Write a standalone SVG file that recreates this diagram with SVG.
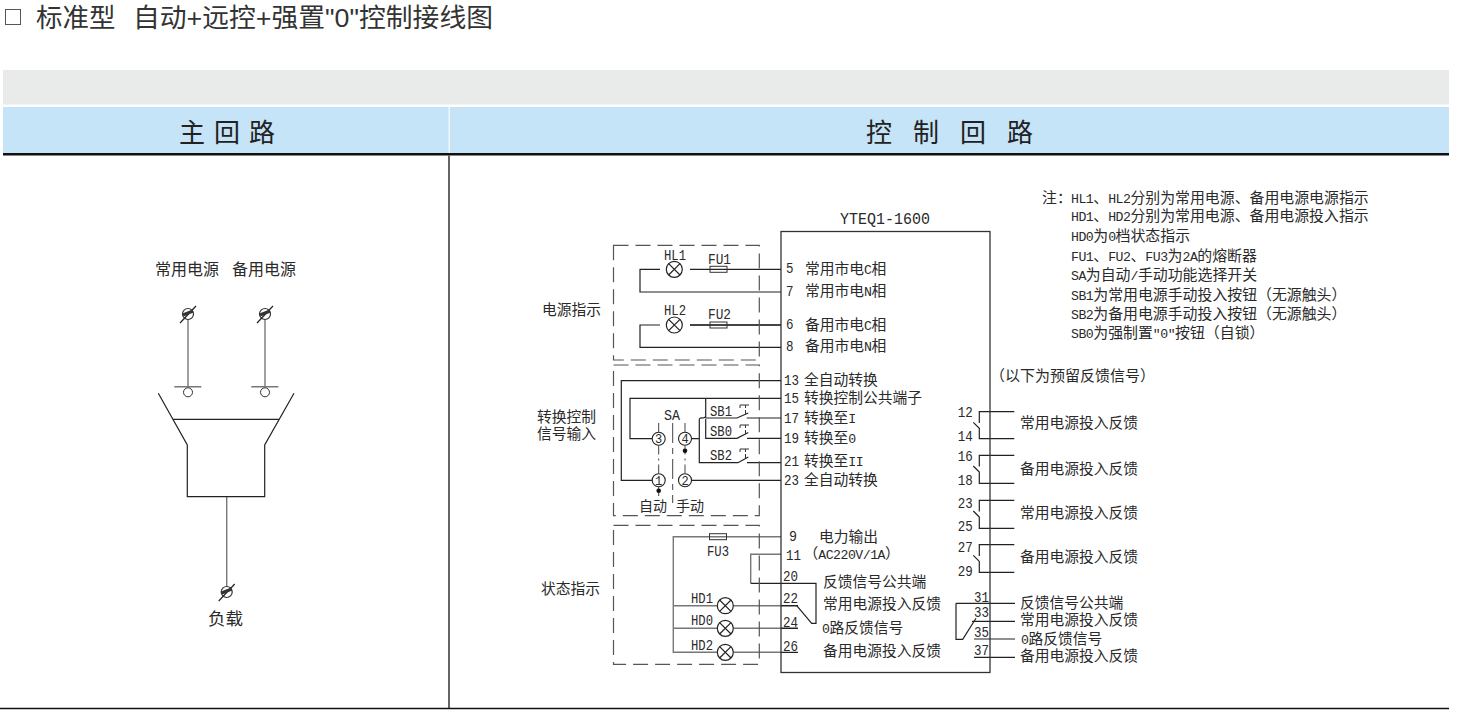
<svg xmlns="http://www.w3.org/2000/svg" width="1460" height="715" viewBox="0 0 1460 715">
<style>
text{font-family:"Liberation Serif","Noto Sans CJK SC",sans-serif;font-size:14.75px;fill:#2a2a2a}
.m{font-family:"Liberation Mono","Noto Sans CJK SC",monospace;font-size:15px}
tspan.l{font-family:"Liberation Mono",monospace;font-size:13.2px;letter-spacing:-.5px}
.t{font-family:"Liberation Sans","Noto Sans CJK SC",sans-serif;font-size:26.5px;fill:#333}
.h{font-family:"Liberation Sans","Noto Sans CJK SC",sans-serif;font-size:26px;fill:#222}
.n{font-size:14.9px}
.w{fill:none;stroke:#222;stroke-width:1.2}
.g{fill:none;stroke:#777;stroke-width:1.4}
.d{fill:none;stroke:#555;stroke-width:1.2;stroke-dasharray:15 7}
.c{fill:none;stroke:#444;stroke-width:1;stroke-dasharray:9 4 2 4}
.lamp{fill:#fff;stroke:#222;stroke-width:1.2}
</style>
<defs>
<g id="lamp"><circle r="8" class="lamp"/><path d="M-5.7-5.7 5.7 5.7M-5.7 5.7 5.7-5.7" class="w"/></g>
<g id="term"><circle r="5.5" fill="#fff" stroke="#333" stroke-width="1.2"/><path d="M-8 9 8-8" stroke="#222" stroke-width="1.2"/><path d="M-5 1 5-3" stroke="#333" stroke-width="3"/></g>
<g id="fuse"><rect x="-8.5" y="-3" width="17" height="6" fill="none" stroke="#333" stroke-width="1"/></g>
<g id="btn"><path d="M0 3V0H9M5.500 0V3M5.500 5V9" fill="none" stroke="#333" stroke-width="1"/></g>
</defs>

<g id="title">
<rect x="5.500" y="9.500" width="15" height="15" fill="none" stroke="#555" stroke-width="1"/>
<text class="t" x="36" y="27">标准型</text>
<text class="t" x="133" y="27" textLength="360" lengthAdjust="spacingAndGlyphs">自动+远控+强置"0"控制接线图</text>
</g>

<g id="header">
<rect x="3" y="70" width="1446" height="34.500" fill="#e9eaea"/>
<rect x="3" y="107" width="1446" height="46" fill="#c5e4f7"/>
<rect x="448.500" y="107" width="1.500" height="46" fill="#eef7fc"/>
<rect x="3" y="153" width="1446" height="2.500" fill="#111"/>
<path d="M449 155.500V708" stroke="#555" stroke-width="1.800" fill="none"/>
<path d="M0 708.500H1449" stroke="#111" stroke-width="1.500" fill="none"/>
<text class="h" x="179" y="142" letter-spacing="9">主回路</text>
<text class="h" x="866" y="142" letter-spacing="21">控制回路</text>
</g>

<g id="connectors">
<path class="g" d="M188 318V386.700M265 318V386.700M226.700 496.700V586"/>
<path class="g" d="M174.300 386.700H201.300M251.300 386.700H278.300"/>
<path class="w" d="M158.300 393.300 187.300 445V496.700H264.700V445L294 393.300M173.300 419.300H278.700"/>

<path class="w" d="M660 269.300H640V292H781M690 269.300H781"/>
<path class="w" d="M660 325H640V347.300H781"/>
<path d="M690 325H781" stroke="#444" stroke-width="2" fill="none"/>

<path class="w" d="M781 380.700H621.300V480.300H652M691.500 480.300H781"/>
<path class="w" d="M781 398.300H630V438.700H652M705.700 398.300V417M705.700 419V438.300H737L748.300 432.500M747 438.300H781" />
<path class="w" d="M691.500 438.700H699.300M699.300 419V462.700H738L748.300 457M747 462.700H781"/>
<path class="w" d="M699.300 419C700.500 417.500 701.500 418 703 418 704.500 418 705 416 706 418H737L748.300 413M746.700 418H781"/>
<path class="c" d="M658.700 423V432M658.700 445.500V473.500M658.700 487V497M685 423V432M685 445.500V473.500"/>
<path d="M672.700 423V503" fill="none" stroke="#444" stroke-width="1" stroke-dasharray="20 5 6 5"/>
<circle cx="685" cy="450.700" r="2.300" fill="#111"/>
<circle cx="658.700" cy="490.700" r="2.300" fill="#111"/>

<path class="g" d="M781 536.700H673.300V652.300H717M733 605.700H798M673.300 605.700H717M673.300 628.300H717M733 628.300H798M733 652.300H781"/>
<path class="w" d="M781 605.700H798M781 628.300H798M781 652.300H798"/>
<path class="g" d="M781 554.300H750.700V583.300"/>
<path class="w" d="M750.700 583.300H816V623.300H811.700L796.700 605.700"/>

<path class="w" d="M1014.300 411.700H979.300V423M973.300 422.300 979.300 428.300V438.700H1014.300"/>
<path class="w" d="M1014.300 455.300H979.300V466.600M973.300 466 979.300 472V483.300H1014.300"/>
<path class="w" d="M1014.300 500.300H979.300V511.600M973.300 511 979.300 517V528.300H1014.300"/>
<path class="w" d="M1014.300 544.700H979.300V556M973.300 555.400 979.300 561.400V572.300H1014.300"/>
<path class="w" d="M974 603.300H1015M956 603.300H974M956 603.300V639.300H962.700L976 618.300M972 621.300H1015M974 639H1015M974 657.300H1015"/>
</g>

<g id="main-circuit">
<use href="#term" x="188" y="314"/><use href="#term" x="265" y="314"/><use href="#term" x="226.700" y="592"/>
<circle cx="188" cy="392.300" r="4.500" fill="#fff" stroke="#333"/>
<circle cx="265" cy="392.300" r="4.500" fill="#fff" stroke="#333"/>
<text x="155" y="275" style="font-size:16px">常用电源</text>
<text x="232" y="275" style="font-size:16px">备用电源</text>
<text x="208" y="625" style="font-size:17.500px">负载</text>
</g>

<g id="controller">
<rect x="781" y="231.500" width="209" height="441" fill="none" stroke="#333" stroke-width="1.300"/>
<text class="m" x="840" y="224" textLength="90" lengthAdjust="spacingAndGlyphs" style="font-size:17px">YTEQ1-1600</text>
</g>

<g id="power-indicator">
<rect x="613.500" y="245.300" width="145.800" height="114.700" class="d"/>
<use href="#lamp" x="674.300" y="269.300"/><use href="#lamp" x="674.300" y="325"/>
<use href="#fuse" x="718.500" y="269.300"/><use href="#fuse" x="718.500" y="325"/>
<text class="m" x="664" y="260" textLength="22" lengthAdjust="spacingAndGlyphs">HL1</text>
<text class="m" x="708" y="264" textLength="23" lengthAdjust="spacingAndGlyphs">FU1</text>
<text class="m" x="664" y="315" textLength="22" lengthAdjust="spacingAndGlyphs">HL2</text>
<text class="m" x="708" y="319" textLength="23" lengthAdjust="spacingAndGlyphs">FU2</text>
<text x="542" y="315">电源指示</text>
</g>

<g id="transfer-control">
<rect x="613.500" y="365" width="145.800" height="150.700" class="d"/>
<text x="537" y="422">转换控制</text><text x="537" y="439">信号输入</text>
<text class="m" x="664" y="420" textLength="16" lengthAdjust="spacingAndGlyphs">SA</text>
<text class="m" x="710" y="416" textLength="22" lengthAdjust="spacingAndGlyphs">SB1</text>
<text class="m" x="710" y="436" textLength="22" lengthAdjust="spacingAndGlyphs">SB0</text>
<text class="m" x="710" y="460" textLength="22" lengthAdjust="spacingAndGlyphs">SB2</text>
<use href="#btn" x="740" y="405"/><use href="#btn" x="740" y="425"/><use href="#btn" x="740" y="449"/>
<g fill="#fff" stroke="#222" stroke-width="1.100">
<circle cx="658.700" cy="438.700" r="6.500"/><circle cx="685" cy="438.700" r="6.500"/>
<circle cx="658.700" cy="480.300" r="6.500"/><circle cx="685" cy="480.300" r="6.500"/>
</g>
<text class="m" x="658.700" y="443" text-anchor="middle" style="font-size:12px">3</text>
<text class="m" x="685" y="443" text-anchor="middle" style="font-size:12px">4</text>
<text class="m" x="658.700" y="484.500" text-anchor="middle" style="font-size:12px">1</text>
<text class="m" x="685" y="484.500" text-anchor="middle" style="font-size:12px">2</text>
<text x="639" y="511" style="font-size:14px">自动</text><text x="676" y="511" style="font-size:14px">手动</text>
</g>

<g id="status-indicator">
<rect x="613.500" y="525.300" width="145.800" height="139" class="d"/>
<use href="#fuse" x="718" y="536.700"/>
<use href="#lamp" x="725.300" y="605.700"/><use href="#lamp" x="725.300" y="628.300"/><use href="#lamp" x="725.300" y="652.300"/>
<text class="m" x="707" y="556" textLength="22" lengthAdjust="spacingAndGlyphs">FU3</text>
<text class="m" x="691" y="603" textLength="22" lengthAdjust="spacingAndGlyphs">HD1</text>
<text class="m" x="691" y="625" textLength="22" lengthAdjust="spacingAndGlyphs">HD0</text>
<text class="m" x="691" y="650" textLength="22" lengthAdjust="spacingAndGlyphs">HD2</text>
<text x="541" y="594">状态指示</text>
</g>

<g id="terminals-left">
<text class="m" x="786" y="273" textLength="7.500" lengthAdjust="spacingAndGlyphs">5</text><text x="805" y="274">常用市电<tspan class="l">C</tspan>相</text>
<text class="m" x="786" y="296" textLength="7.500" lengthAdjust="spacingAndGlyphs">7</text><text x="805" y="296">常用市电<tspan class="l">N</tspan>相</text>
<text class="m" x="786" y="329" textLength="7.500" lengthAdjust="spacingAndGlyphs">6</text><text x="805" y="330">备用市电<tspan class="l">C</tspan>相</text>
<text class="m" x="786" y="351" textLength="7.500" lengthAdjust="spacingAndGlyphs">8</text><text x="805" y="351">备用市电<tspan class="l">N</tspan>相</text>
<text class="m" x="784" y="385" textLength="15" lengthAdjust="spacingAndGlyphs">13</text><text x="804" y="385">全自动转换</text>
<text class="m" x="784" y="402.500" textLength="15" lengthAdjust="spacingAndGlyphs">15</text><text x="804" y="402.500">转换控制公共端子</text>
<text class="m" x="784" y="423" textLength="15" lengthAdjust="spacingAndGlyphs">17</text><text x="804" y="423">转换至<tspan class="l">I</tspan></text>
<text class="m" x="784" y="443" textLength="15" lengthAdjust="spacingAndGlyphs">19</text><text x="804" y="443">转换至<tspan class="l">0</tspan></text>
<text class="m" x="784" y="466" textLength="15" lengthAdjust="spacingAndGlyphs">21</text><text x="804" y="466">转换至<tspan class="l">II</tspan></text>
<text class="m" x="784" y="485" textLength="15" lengthAdjust="spacingAndGlyphs">23</text><text x="804" y="485">全自动转换</text>
<text class="m" x="789" y="541" textLength="8" lengthAdjust="spacingAndGlyphs">9</text><text x="819" y="541.500">电力输出</text>
<text class="m" x="786" y="560" textLength="15" lengthAdjust="spacingAndGlyphs">11</text><text x="803.500" y="559">（<tspan class="l">AC220V/1A</tspan>）</text>
<text class="m" x="783" y="581" textLength="15" lengthAdjust="spacingAndGlyphs">20</text><text x="823" y="587">反馈信号公共端</text>
<text class="m" x="783" y="603" textLength="15" lengthAdjust="spacingAndGlyphs">22</text><text x="823" y="609">常用电源投入反馈</text>
<text class="m" x="783" y="627" textLength="15" lengthAdjust="spacingAndGlyphs">24</text><text x="822" y="633"><tspan class="l">0</tspan>路反馈信号</text>
<text class="m" x="783" y="651" textLength="15" lengthAdjust="spacingAndGlyphs">26</text><text x="823" y="656">备用电源投入反馈</text>
</g>

<g id="terminals-right">
<text x="990" y="381" style="font-size:15px">（以下为预留反馈信号）</text>
<text class="m" x="957.700" y="416.700" textLength="15" lengthAdjust="spacingAndGlyphs">12</text>
<text class="m" x="957.700" y="440.700" textLength="15" lengthAdjust="spacingAndGlyphs">14</text>
<text class="m" x="957.700" y="460.700" textLength="15" lengthAdjust="spacingAndGlyphs">16</text>
<text class="m" x="957.700" y="484.700" textLength="15" lengthAdjust="spacingAndGlyphs">18</text>
<text class="m" x="957.700" y="507.700" textLength="15" lengthAdjust="spacingAndGlyphs">23</text>
<text class="m" x="957.700" y="530.700" textLength="15" lengthAdjust="spacingAndGlyphs">25</text>
<text class="m" x="957.700" y="552" textLength="15" lengthAdjust="spacingAndGlyphs">27</text>
<text class="m" x="957.700" y="576" textLength="15" lengthAdjust="spacingAndGlyphs">29</text>
<text x="1020" y="428">常用电源投入反馈</text>
<text x="1020" y="474">备用电源投入反馈</text>
<text x="1020" y="518">常用电源投入反馈</text>
<text x="1020" y="562">备用电源投入反馈</text>
<text class="m" x="974" y="601.700" textLength="15" lengthAdjust="spacingAndGlyphs">31</text>
<text class="m" x="974" y="616.700" textLength="15" lengthAdjust="spacingAndGlyphs">33</text>
<text class="m" x="974" y="637" textLength="15" lengthAdjust="spacingAndGlyphs">35</text>
<text class="m" x="974" y="655" textLength="15" lengthAdjust="spacingAndGlyphs">37</text>
<text x="1020" y="607.700">反馈信号公共端</text>
<text x="1020" y="625">常用电源投入反馈</text>
<text x="1021" y="643.700"><tspan class="l">0</tspan>路反馈信号</text>
<text x="1020" y="660.700">备用电源投入反馈</text>
</g>

<g id="notes">
<text class="n" x="1042" y="202.500">注：</text>
<text class="n" x="1071" y="202.500"><tspan class="l">HL1</tspan>、<tspan class="l">HL2</tspan>分别为常用电源、备用电源电源指示</text>
<text class="n" x="1071" y="220.500"><tspan class="l">HD1</tspan>、<tspan class="l">HD2</tspan>分别为常用电源、备用电源投入指示</text>
<text class="n" x="1071" y="241"><tspan class="l">HD0</tspan>为<tspan class="l">0</tspan>档状态指示</text>
<text class="n" x="1071" y="261"><tspan class="l">FU1</tspan>、<tspan class="l">FU2</tspan>、<tspan class="l">FU3</tspan>为<tspan class="l">2A</tspan>的熔断器</text>
<text class="n" x="1071" y="280"><tspan class="l">SA</tspan>为自动<tspan class="l">/</tspan>手动功能选择开关</text>
<text class="n" x="1071" y="300"><tspan class="l">SB1</tspan>为常用电源手动投入按钮（无源触头）</text>
<text class="n" x="1071" y="319"><tspan class="l">SB2</tspan>为备用电源手动投入按钮（无源触头）</text>
<text class="n" x="1071" y="338"><tspan class="l">SB0</tspan>为强制置<tspan class="l">"0"</tspan>按钮（自锁）</text>
</g>
</svg>
